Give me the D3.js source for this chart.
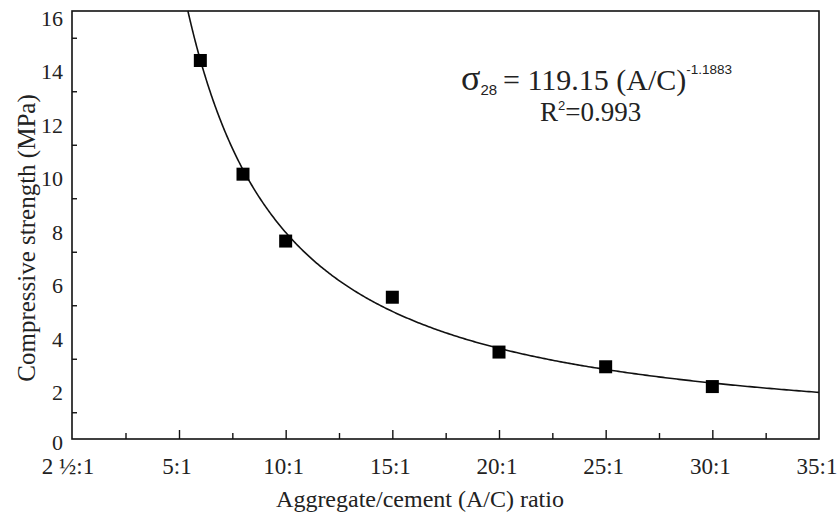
<!DOCTYPE html>
<html>
<head>
<meta charset="utf-8">
<script src="https://cdn.jsdelivr.net/npm/d3@7"></script>
<style>
  html, body { margin: 0; padding: 0; background: #fff; }
  svg { display: block; }
</style>
</head>
<body>
<svg id="chart" width="838" height="514"></svg>
<script>
// A/C ratios of the tested mixes and their 28-day compressive strength (MPa)
const ratios = [6, 8, 10, 15, 20, 25, 30];
const strength = [14.15, 9.9, 7.4, 5.3, 3.25, 2.7, 1.96];

// Labelled x ticks (ratio value, label text) and the minor ticks between them
const xTickValues = [2.5, 5, 10, 15, 20, 25, 30, 35];
const xTickLabels = ["2 \u00BD:1", "5:1", "10:1", "15:1", "20:1", "25:1", "30:1", "35:1"];
const xMinorValues = [3.75, 7.5, 12.5, 17.5, 22.5, 27.5, 32.5];
const yTickValues = [0, 2, 4, 6, 8, 10, 12, 14, 16];
const yMinorValues = [1, 3, 5, 7, 9, 11, 13, 15];

// Power-law fit: sigma28 = a * (A/C)^b
const fitA = 119.15;
const fitB = -1.1883;

const SERIF = "'Liberation Serif', 'Times New Roman', Times, serif";
const SANS = "'Liberation Sans', Arial, Helvetica, sans-serif";
const INK = "#222";

const svg = d3.select("#chart");
const plotL = 72, plotR = 819, plotT = 11, plotB = 439;

// The first interval (2.5 to 5) is drawn as wide as each 5-unit step
const x = d3.scaleLinear().domain([2.5, 5, 35]).range([plotL, 179, plotR]);
const y = d3.scaleLinear().domain([0, 16]).range([plotB, plotT]);

const g = svg.append("g");

// Frame
g.append("rect")
  .attr("x", plotL).attr("y", plotT)
  .attr("width", plotR - plotL).attr("height", plotB - plotT)
  .attr("fill", "none").attr("stroke", "#111").attr("stroke-width", 1.6);

// X axis ticks (pointing inward) and labels
const xMajor = g.append("g").attr("transform", `translate(0,${plotB})`)
  .call(d3.axisBottom(x).tickValues(xTickValues.slice(1, -1)).tickSize(-9).tickFormat(""));
const xMinor = g.append("g").attr("transform", `translate(0,${plotB})`)
  .call(d3.axisBottom(x).tickValues(xMinorValues).tickSize(-6).tickFormat(""));
[xMajor, xMinor].forEach(a => {
  a.select(".domain").remove();
  a.selectAll("line").attr("stroke", "#111").attr("stroke-width", 1.4);
});
g.append("g").selectAll("text").data(xTickValues).join("text")
  .attr("x", (d, i) => x(d) + (i === 0 ? -4 : -2))
  .attr("y", 474)
  .attr("text-anchor", "middle")
  .style("font-family", SERIF).style("font-size", "23px").attr("fill", INK)
  .text((d, i) => xTickLabels[i]);

// Y axis minor ticks (inward) and labels
const yMinor = g.append("g").attr("transform", `translate(${plotL},0)`)
  .call(d3.axisLeft(y).tickValues(yMinorValues).tickSize(-5).tickFormat(""));
yMinor.select(".domain").remove();
yMinor.selectAll("line").attr("stroke", "#111").attr("stroke-width", 1.4);
g.append("g").selectAll("text").data(yTickValues).join("text")
  .attr("x", 63)
  .attr("y", d => y(d) + (d === 0 ? 11 : 14.5))
  .attr("text-anchor", "end")
  .style("font-family", SERIF).style("font-size", "22px").attr("fill", INK)
  .text(d => d);

// Axis titles
g.append("text")
  .attr("x", 420).attr("y", 507)
  .attr("text-anchor", "middle")
  .style("font-family", SERIF).style("font-size", "24px").attr("fill", INK)
  .text("Aggregate/cement (A/C) ratio");
g.append("text")
  .attr("transform", "translate(35,238) rotate(-90)")
  .attr("text-anchor", "middle")
  .style("font-family", SERIF).style("font-size", "25px").attr("fill", INK)
  .text("Compressive strength (MPa)");

// Fitted curve, starting where it enters the plot at the top edge
const xStart = Math.pow(16 / fitA, 1 / fitB);
const curvePts = d3.range(0, 401).map(i => {
  const r = xStart + (35 - xStart) * Math.pow(i / 400, 1.6);
  return [r, fitA * Math.pow(r, fitB)];
});
g.append("path")
  .datum(curvePts)
  .attr("fill", "none")
  .attr("stroke", "#111")
  .attr("stroke-width", 1.6)
  .attr("d", d3.line().x(d => x(d[0])).y(d => y(d[1])));

// Measured points
const sq = 13;
g.append("g").selectAll("rect").data(ratios).join("rect")
  .attr("x", d => x(d) - sq / 2)
  .attr("y", (d, i) => y(strength[i]) - sq / 2)
  .attr("width", sq).attr("height", sq)
  .attr("fill", "#000");

// Equation annotation
const eq = g.append("text").attr("x", 461).attr("y", 90)
  .style("font-family", SERIF).style("font-size", "30px").attr("fill", INK);
eq.append("tspan").style("font-size", "36px").text("\u03C3");
eq.append("tspan").style("font-family", SANS)
  .style("font-size", "15px").attr("dy", 5).text("28");
eq.append("tspan").attr("x", 503).attr("dy", -5).text("= 119.15 (A/C)");
eq.append("tspan").style("font-family", SANS)
  .style("font-size", "13.5px").attr("dy", -16).text("-1.1883");

const r2 = g.append("text").attr("x", 540).attr("y", 121)
  .style("font-family", SERIF).style("font-size", "27px").attr("fill", INK);
r2.append("tspan").text("R");
r2.append("tspan").style("font-family", SANS)
  .style("font-size", "13px").attr("dy", -11).text("2");
r2.append("tspan").attr("dy", 11).text("=0.993");
</script>
</body>
</html>
